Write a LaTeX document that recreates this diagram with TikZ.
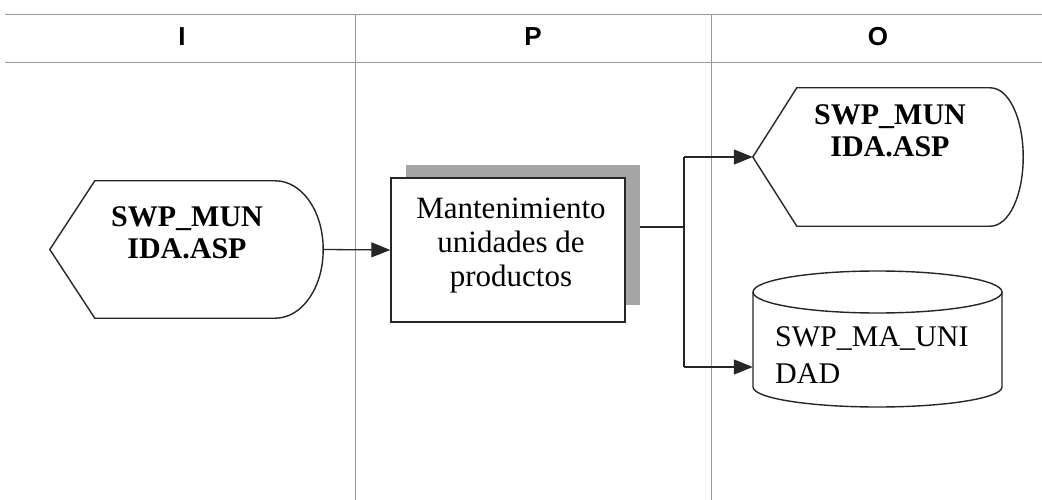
\documentclass[tikz,border=0pt]{standalone}
\usepackage{fontspec}
\setmainfont{Liberation Serif}
\newfontfamily\hdrfont{Liberation Sans}
\usetikzlibrary{arrows.meta,calc}
\begin{document}
\begin{tikzpicture}[x=1pt,y=-1pt,
  grid/.style={draw=black!40,line width=0.9pt},
  outl/.style={draw=black!85,line width=1.4pt},
  conn/.style={draw=black!85,line width=1.3pt},
  arr/.style={conn,-{Triangle[length=19pt,width=15pt]}},
  hdr/.style={font=\hdrfont\bfseries\fontsize{26}{28}\selectfont,inner sep=0pt},
  boldtxt/.style={font=\bfseries\fontsize{30}{30}\selectfont,align=center,inner sep=0pt},
  regtxt/.style={font=\fontsize{31}{34}\selectfont,align=center,inner sep=0pt},
  dbtxt/.style={font=\fontsize{30}{37}\selectfont,align=left,inner sep=0pt,anchor=west},
  holder/.style={draw=none,inner sep=0pt,rectangle}
]
\useasboundingbox (0,0) rectangle (1042,500);
% header grid
\draw[grid] (5,14) -- (1042,14);
\draw[grid] (5,62) -- (1042,62);
\draw[grid] (355,14) -- (355,500);
\draw[grid] (711,14) -- (711,500);
\node[hdr] (hI) at (182,37) {I};
\node[hdr] (hP) at (533,37) {P};
\node[hdr] (hO) at (878,37) {O};

% input display shape
\node[holder,minimum width=273pt,minimum height=137pt] (in) at (186.5,249.5) {};
\draw[outl] (in.west) -- ($(in.north west)+(45,0)$) -- ($(in.north east)+(-48,0)$)
  .. controls ($(in.north east)+(-21,0)$) and ($(in.east)+(0,-38)$) .. (in.east)
  .. controls ($(in.east)+(0,38)$) and ($(in.south east)+(-21,0)$) .. ($(in.south east)+(-48,0)$)
  -- ($(in.south west)+(45,0)$) -- cycle;
\node[boldtxt] (inT) at (187,233) {SWP\_MUN\\[2pt]IDA.ASP};

% process box with shadow
\node[holder,fill=black!35,minimum width=234pt,minimum height=140pt] (sh) at (523,235) {};
\node[outl,fill=white,inner sep=0pt,minimum width=234pt,minimum height=144pt] (proc) at (508,250) {};
\node[regtxt] (procT) at (511,246) {Mantenimiento\\unidades de\\productos};

% output display shape
\node[holder,minimum width=270pt,minimum height=138pt] (out) at (888,157) {};
\draw[outl] (out.west) -- ($(out.north west)+(44,0)$) -- ($(out.north east)+(-33,0)$)
  .. controls ($(out.north east)+(-14,0)$) and ($(out.east)+(0,-38)$) .. (out.east)
  .. controls ($(out.east)+(0,38)$) and ($(out.south east)+(-14,0)$) .. ($(out.south east)+(-33,0)$)
  -- ($(out.south west)+(44,0)$) -- cycle;
\node[boldtxt] (outT) at (890,131) {SWP\_MUN\\[2pt]IDA.ASP};

% database cylinder
\node[holder,minimum width=249pt,minimum height=136pt] (db) at (877.5,339) {};
\draw[outl,fill=white] (753,292) -- (753,387) arc[start angle=180,end angle=360,x radius=124.5,y radius=-20] -- (1002,292);
\draw[outl] (877.5,292) ellipse[x radius=124.5,y radius=21];
\node[dbtxt] (dbT) at (775,355) {SWP\_MA\_UNI\\DAD};

% connectors
\coordinate (j) at (684,227);
\coordinate (jtop) at (684,157);
\coordinate (jbot) at (684,367);
\draw[arr] (in.east) -- (proc.west);
\draw[conn] (sh.east |- j) -- (j);
\draw[conn] (jtop) -- (jbot);
\draw[arr] (jtop) -- (out.west);
\draw[arr] (jbot) -- (db.west |- jbot);
\end{tikzpicture}
\end{document}
